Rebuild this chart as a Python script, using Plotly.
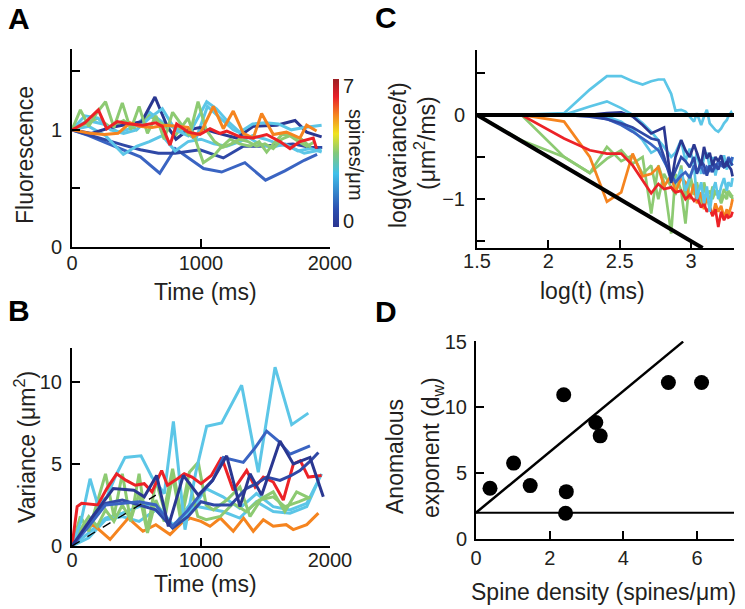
import plotly.graph_objects as go

W, H = 745, 609

# ---------------- colours ----------------
NAVY = '#2a3791'
NAVY2 = '#2f48a6'
BLUE = '#3a64c2'
LBLUE = '#5cc6e7'
GREEN = '#8dca72'
RED = '#ec2227'
ORANGE = '#f5841f'

# ---------------- Panel A: Fluorescence vs time ----------------
A_T_NAVY1 = [0, 150, 300, 450, 540, 643, 734, 806, 900, 992, 1100, 1277, 1405, 1587, 1729, 1819, 1935]
A_V_NAVY1 = [1.0, 0.97, 1.02, 1.05, 1.07, 1.28, 1.04, 0.92, 1.0, 1.02, 0.98, 0.93, 1.03, 1.04, 1.08, 0.98, 0.94]
A_T_NAVY2 = [0, 120, 250, 400, 530, 670, 800, 992, 1173, 1328, 1450, 1600, 1713, 1850, 1940]
A_V_NAVY2 = [1.0, 0.96, 0.92, 0.87, 0.83, 0.80, 0.80, 0.83, 0.76, 0.86, 0.86, 0.87, 0.88, 0.85, 0.85]
A_T_BLUE = [0, 130, 260, 400, 530, 680, 800, 1020, 1160, 1340, 1500, 1650, 1800, 1900]
A_V_BLUE = [1.0, 0.95, 0.89, 0.83, 0.77, 0.63, 0.84, 0.67, 0.64, 0.72, 0.57, 0.65, 0.74, 0.79]
A_T_LB1 = [0, 100, 200, 300, 400, 500, 600, 700, 800, 900, 1044, 1120, 1200, 1300, 1400, 1500, 1600, 1700, 1800, 1935]
A_V_LB1 = [1.0, 1.12, 1.10, 1.0, 0.97, 1.0, 1.10, 1.18, 1.0, 0.95, 1.24, 1.18, 1.08, 0.98, 1.05, 1.06, 1.05, 1.0, 1.02, 1.04]
A_T_LB2 = [0, 130, 260, 398, 500, 600, 700, 800, 900, 1000, 1100, 1200, 1300, 1400, 1500, 1600, 1700, 1800, 1935]
A_V_LB2 = [1.0, 1.03, 0.95, 0.79, 0.86, 0.90, 0.95, 0.82, 0.90, 0.92, 0.88, 0.86, 0.90, 0.95, 0.92, 0.88, 0.85, 0.80, 0.83]
A_T_LB3 = [0, 120, 240, 360, 480, 600, 720, 840, 960, 1050, 1150, 1250, 1350, 1450, 1550, 1650, 1750, 1850, 1935]
A_V_LB3 = [1.0, 1.08, 1.05, 0.98, 1.02, 1.15, 1.05, 1.0, 0.92, 1.20, 1.10, 1.0, 0.95, 0.88, 0.85, 0.88, 0.82, 0.84, 0.81]
A_T_GREEN1 = [0, 65, 130, 195, 260, 325, 390, 455, 520, 585, 650, 715, 780, 845, 910, 977, 1040, 1105, 1170,
              1235, 1300, 1365, 1430, 1495, 1560, 1625, 1690, 1755, 1820, 1885]
A_V_GREEN1 = [1.0, 1.17, 1.03, 1.15, 1.24, 1.02, 1.23, 1.0, 1.20, 0.97, 1.12, 0.92, 1.15, 1.05, 0.95, 1.24, 1.0,
              0.90, 0.85, 0.88, 0.92, 0.90, 0.86, 0.88, 0.84, 0.92, 0.95, 0.90, 0.86, 0.90]
A_T_GREEN2 = [0, 100, 200, 300, 400, 500, 600, 700, 800, 900, 1018, 1100, 1147, 1225, 1300, 1380, 1450, 1509,
              1560, 1628, 1700, 1780, 1850]
A_V_GREEN2 = [1.0, 1.05, 1.10, 1.02, 1.08, 1.0, 1.12, 1.05, 0.95, 1.10, 0.72, 0.78, 0.84, 0.92, 0.88, 0.86, 0.90,
              0.81, 0.88, 0.96, 0.95, 0.92, 0.85]
A_T_RED = [0, 100, 204, 269, 350, 450, 550, 650, 700, 760, 811, 900, 992, 1070, 1147, 1200, 1302, 1400, 1509,
           1612, 1690, 1767, 1870, 1896]
A_V_RED = [1.0, 1.06, 1.17, 1.01, 1.07, 1.05, 1.04, 1.06, 1.03, 0.87, 1.05, 0.98, 0.96, 1.01, 0.97, 0.99, 0.94,
           0.93, 0.96, 0.90, 0.84, 0.90, 0.93, 0.84]
A_T_ORANGE = [0, 140, 250, 357, 450, 520, 620, 720, 820, 900, 938, 1000, 1096, 1173, 1250, 1328, 1405, 1470, 1560,
              1663, 1767, 1819, 1896]
A_V_ORANGE = [1.0, 0.97, 0.96, 0.97, 1.06, 1.03, 1.02, 1.04, 1.03, 1.02, 0.94, 0.98, 1.20, 1.01, 1.16, 0.97, 0.93,
              1.14, 0.96, 0.98, 0.93, 1.04, 0.99]

# ---------------- Panel B: Variance vs time ----------------
B_T_LB1 = [0, 70, 140, 200, 270, 340, 411, 535, 620, 716, 786, 876, 960, 1044, 1160, 1315, 1444, 1574, 1703, 1832]
B_V_LB1 = [0, 1.5, 4.1, 2.5, 3.0, 4.3, 5.4, 5.5, 4.2, 3.2, 7.6, 1.0, 4.5, 7.3, 7.5, 9.8, 4.5, 10.9, 7.4, 8.1]
B_T_LB2 = [0, 130, 260, 390, 520, 650, 780, 910, 1040, 1170, 1300, 1430, 1560, 1690, 1820, 1935]
B_V_LB2 = [0, 0.8, 1.7, 2.0, 2.4, 2.6, 1.3, 2.0, 3.5, 3.0, 2.3, 3.2, 2.4, 2.2, 2.6, 4.4]
B_T_LB3 = [0, 130, 260, 390, 520, 650, 780, 910, 1040, 1170, 1300, 1430, 1560, 1690, 1820, 1900]
B_V_LB3 = [0, 0.5, 1.6, 1.8, 1.5, 2.2, 1.1, 2.5, 2.3, 2.1, 1.7, 2.7, 2.1, 2.0, 2.4, 3.8]
B_T_GREEN1 = [0, 65, 130, 195, 260, 325, 390, 455, 520, 585, 650, 715, 780, 845, 910, 979, 1040, 1096, 1200,
              1302, 1380, 1470, 1560, 1650, 1741, 1845]
B_V_GREEN1 = [0, 1.8, 0.9, 2.6, 4.4, 1.8, 4.4, 1.5, 4.4, 0.9, 4.0, 2.2, 4.7, 2.0, 4.5, 5.1, 2.5, 2.2, 2.8, 3.6,
              1.8, 2.9, 3.3, 2.1, 3.3, 2.9]
B_T_GREEN2 = [0, 65, 130, 195, 260, 325, 390, 455, 520, 585, 650, 715, 780, 845, 910, 975, 1040, 1150, 1250,
              1350, 1450, 1560, 1650, 1760, 1850]
B_V_GREEN2 = [0, 1.0, 1.8, 1.2, 2.2, 1.5, 2.5, 1.6, 3.2, 0.8, 2.8, 1.5, 4.3, 1.5, 3.9, 1.8, 1.6, 1.8, 2.6, 2.1,
              2.8, 3.0, 2.4, 2.7, 3.0]
B_T_RED = [0, 40, 75, 200, 270, 346, 420, 490, 560, 620, 695, 740, 800, 870, 930, 1000, 1080, 1160, 1250, 1354,
           1420, 1483, 1560, 1638, 1716, 1770, 1832, 1935]
B_V_RED = [0, 2.4, 2.6, 2.5, 3.5, 4.4, 4.0, 3.7, 3.8, 3.3, 4.6, 3.7, 4.0, 4.4, 4.2, 3.8, 4.3, 5.4, 3.4, 4.6, 3.6,
           4.2, 3.9, 2.8, 5.0, 5.2, 4.2, 4.3]
B_T_ORANGE = [0, 80, 165, 295, 437, 550, 650, 760, 850, 915, 1000, 1070, 1150, 1250, 1330, 1405, 1483, 1560,
              1660, 1715, 1820, 1910]
B_V_ORANGE = [0, 0.9, 1.3, 0.4, 1.7, 0.9, 1.3, 0.7, 1.4, 1.7, 1.5, 1.2, 1.7, 0.9, 1.7, 0.9, 1.6, 1.2, 1.3, 1.0,
              1.3, 2.0]
B_T_NAVY1 = [0, 160, 320, 480, 560, 656, 747, 863, 979, 1090, 1199, 1302, 1380, 1470, 1612, 1716, 1845, 1948]
B_V_NAVY1 = [0, 1.8, 3.5, 3.4, 3.0, 4.3, 1.2, 4.3, 3.1, 4.0, 5.5, 2.4, 4.4, 3.1, 6.4, 5.0, 5.4, 3.0]
B_T_BLUE = [0, 130, 260, 400, 520, 650, 780, 900, 1000, 1090, 1173, 1328, 1420, 1509, 1600, 1690, 1845]
B_V_BLUE = [0, 1.2, 2.5, 2.6, 2.7, 2.5, 1.2, 2.2, 3.2, 4.0, 5.4, 5.1, 6.0, 7.0, 6.4, 5.6, 6.1]
B_T_NAVY2 = [0, 130, 260, 390, 520, 650, 780, 900, 1000, 1100, 1230, 1350, 1430, 1509, 1612, 1700, 1767, 1850, 1910]
B_V_NAVY2 = [0, 1.3, 2.6, 2.8, 2.5, 2.2, 1.1, 1.8, 2.7, 2.5, 2.5, 3.5, 3.8, 4.2, 4.0, 4.3, 4.6, 5.2, 5.7]
B_FIT_T = [0, 650]
B_FIT_V = [0, 3.1]

# ---------------- Panel C: log(variance/t) vs log(t) ----------------
C_LOGT = [1.5, 1.81, 2.11, 2.29, 2.41, 2.51, 2.59, 2.66, 2.72, 2.77, 2.81, 2.86, 2.89, 2.93, 2.96, 2.99, 3.02,
          3.04, 3.07, 3.09, 3.11, 3.13, 3.15, 3.17, 3.19, 3.21, 3.23, 3.25, 3.26, 3.28, 3.29]
C_LB1 = [0, 0, 0.02, 0.30, 0.46, 0.46, 0.40, 0.36, 0.40, 0.42, 0.42, 0.25, 0.05, 0.06, 0.04, -0.02, -0.08, 0.02,
         -0.12, -0.02, 0.06, -0.10, -0.14, -0.18, -0.20, -0.16, -0.10, -0.06, -0.02, 0.03, 0.0]
C_LB2 = [0, 0, 0.0, 0.10, 0.16, 0.08, 0.0, -0.10, -0.20, -0.30, -0.38, -0.50, -0.45, -0.30, -0.55, -0.40, -0.60,
         -0.45, -0.70, -0.50, -0.45, -0.62, -0.50, -0.72, -0.55, -0.60, -0.48, -0.65, -0.55, -0.60, -0.50]
C_LB3 = [0, 0, 0, 0, -0.02, -0.08, -0.18, -0.30, -0.45, -0.40, -0.55, -0.72, -0.80, -0.65, -0.90, -0.75, -0.60,
         -1.0, -0.80, -1.05, -0.85, -1.15, -0.90, -0.80, -1.0, -0.85, -0.75, -0.90, -0.80, -0.85, -0.75]
C_NAVY1 = [0, 0, 0, 0, 0.02, 0.03, -0.02, -0.12, -0.22, -0.18, -0.15, -0.81, -0.50, -0.30, -0.42, -0.50, -0.35,
           -0.45, -0.60, -0.38, -0.52, -0.45, -0.60, -0.50, -0.55, -0.48, -0.62, -0.55, -0.60, -0.65, -0.73]
C_NAVY2 = [0, 0, 0, -0.02, -0.05, -0.10, -0.15, -0.22, -0.28, -0.30, -0.50, -0.78, -0.65, -0.50, -0.55, -0.62,
           -0.50, -0.70, -0.55, -0.60, -0.72, -0.60, -0.68, -0.58, -0.65, -0.55, -0.62, -0.60, -0.52, -0.58, -0.60]
C_BLUE = [0, 0, 0, 0, -0.05, -0.12, -0.20, -0.28, -0.35, -0.42, -0.55, -0.70, -0.80, -0.72, -0.68, -0.75, -0.60,
          -0.68, -0.60, -0.70, -0.62, -0.66, -0.58, -0.64, -0.55, -0.60, -0.62, -0.58, -0.50, -0.55, -0.50]
C_RED = [0, 0, -0.28, -0.42, -0.46, -0.46, -0.60, -0.77, -0.93, -0.82, -0.88, -0.86, -0.92, -0.90, -1.0, -0.95,
         -1.02, -0.98, -1.10, -1.05, -1.15, -1.10, -1.20, -1.12, -1.33, -1.15, -1.25, -1.18, -1.22, -1.20, -1.15]
C_ORANGE = [0, 0, -0.08, -0.50, -1.03, -0.92, -0.46, -0.73, -0.70, -0.62, -0.85, -0.72, -0.92, -0.75, -0.80,
            -1.0, -0.82, -1.05, -0.92, -1.12, -0.98, -1.10, -1.20, -1.05, -1.15, -1.08, -1.22, -1.12, -1.20, -1.08, -1.0]
C_GREEN1 = [0, -0.30, -0.50, -0.69, -0.52, -0.42, -0.58, -0.50, -1.17, -0.60, -0.80, -1.41, -0.70, -0.90, -1.29,
            -0.75, -0.95, -0.85, -1.10, -0.80, -0.95, -1.0, -0.85, -0.95, -0.90, -1.0, -0.88, -0.95, -0.92, -0.98, -0.95]
C_GREEN2 = [0, 0, -0.50, -0.69, -0.38, -0.55, -0.48, -0.70, -0.60, -1.0, -0.70, -0.85, -0.95, -0.60, -1.0, -0.70,
            -0.90, -0.80, -1.05, -0.85, -0.95, -0.90, -1.0, -0.90, -0.95, -1.05, -0.95, -1.0, -0.90, -0.95, -1.0]
C_REF_FLAT_X = [1.5, 3.3]
C_REF_FLAT_Y = [0, 0]
C_REF_SLOPE_X = [1.5, 3.08]
C_REF_SLOPE_Y = [0, -1.58]

# ---------------- Panel D: anomalous exponent vs spine density ----------------
D_DENSITY = [0.38, 1.02, 1.47, 2.38, 2.45, 2.43, 3.25, 3.37, 5.22, 6.12]
D_EXPONENT = [3.86, 5.77, 4.06, 10.97, 3.6, 1.96, 8.86, 7.84, 11.9, 11.9]
D_FIT_X = [0, 5.62]
D_FIT_Y = [2.0, 15.0]
D_NORMAL_X = [0, 7]
D_NORMAL_Y = [2.0, 2.0]

# colour bar
CBAR_MIN, CBAR_MAX = 0, 7
CSCALE = [[0.0, '#2b3590'], [0.12, '#2c4fb0'], [0.36, '#40c0ea'], [0.5, '#82c97a'], [0.63, '#efe31f'],
          [0.76, '#f58220'], [0.88, '#e8202a'], [1.0, '#9c2024']]

FONT = 'Liberation Sans, Arial, Helvetica, sans-serif'
TXT = '#231f20'

fig = go.Figure()


def line(xs, ys, color, xa, ya, width=3.0, dash=None):
    fig.add_trace(go.Scatter(x=xs, y=ys, mode='lines', xaxis=xa, yaxis=ya,
                             line=dict(color=color, width=width, dash=dash),
                             showlegend=False, hoverinfo='skip'))


# Panel A
for t, v, c in [(A_T_BLUE, A_V_BLUE, BLUE), (A_T_NAVY2, A_V_NAVY2, NAVY2), (A_T_LB2, A_V_LB2, LBLUE),
                (A_T_LB3, A_V_LB3, LBLUE), (A_T_GREEN2, A_V_GREEN2, GREEN), (A_T_NAVY1, A_V_NAVY1, NAVY),
                (A_T_LB1, A_V_LB1, LBLUE), (A_T_GREEN1, A_V_GREEN1, GREEN), (A_T_ORANGE, A_V_ORANGE, ORANGE),
                (A_T_RED, A_V_RED, RED)]:
    line(t, v, c, 'x', 'y')

# colour bar drawn as a gradient-filled rectangle in its own small axes
fig.add_trace(go.Scatter(x=[0, 1, 1, 0, 0], y=[CBAR_MIN, CBAR_MIN, CBAR_MAX, CBAR_MAX, CBAR_MIN],
                         mode='lines', fill='toself', line=dict(width=0, color='rgba(0,0,0,0)'),
                         fillgradient=dict(type='vertical', colorscale=CSCALE),
                         xaxis='x5', yaxis='y5', showlegend=False, hoverinfo='skip'))

# Panel B
for t, v, c in [(B_T_LB3, B_V_LB3, LBLUE), (B_T_LB2, B_V_LB2, LBLUE), (B_T_ORANGE, B_V_ORANGE, ORANGE),
                (B_T_GREEN2, B_V_GREEN2, GREEN), (B_T_GREEN1, B_V_GREEN1, GREEN), (B_T_LB1, B_V_LB1, LBLUE),
                (B_T_RED, B_V_RED, RED), (B_T_NAVY2, B_V_NAVY2, NAVY2), (B_T_BLUE, B_V_BLUE, BLUE),
                (B_T_NAVY1, B_V_NAVY1, NAVY)]:
    line(t, v, c, 'x2', 'y2')
line(B_FIT_T, B_FIT_V, 'black', 'x2', 'y2', width=1.3, dash='dash')

# Panel C
for v, c in [(C_GREEN1, GREEN), (C_GREEN2, GREEN), (C_ORANGE, ORANGE), (C_RED, RED), (C_LB3, LBLUE),
             (C_LB2, LBLUE), (C_LB1, LBLUE), (C_BLUE, BLUE), (C_NAVY2, NAVY2), (C_NAVY1, NAVY)]:
    line(C_LOGT, v, c, 'x3', 'y3', width=2.7)
line(C_REF_FLAT_X, C_REF_FLAT_Y, 'black', 'x3', 'y3', width=4)
line(C_REF_SLOPE_X, C_REF_SLOPE_Y, 'black', 'x3', 'y3', width=4)

# Panel D
line(D_NORMAL_X, D_NORMAL_Y, 'black', 'x4', 'y4', width=2)
line(D_FIT_X, D_FIT_Y, 'black', 'x4', 'y4', width=2.5)
fig.add_trace(go.Scatter(x=D_DENSITY, y=D_EXPONENT, mode='markers', xaxis='x4', yaxis='y4',
                         marker=dict(color='black', size=15), showlegend=False, hoverinfo='skip'))

common = dict(showline=True, linecolor='black', linewidth=2, ticks='inside', ticklen=8, tickwidth=2,
              tickcolor='black', showgrid=False, zeroline=False, mirror=False, automargin=False,
              tickfont=dict(family=FONT, size=20, color=TXT))
minor_common = dict(ticks='inside', ticklen=8, tickwidth=2, tickcolor='black', showgrid=False)


def pxx(x):
    return x / W


def pyy(y):
    return 1 - y / H


fig.update_layout(
    width=W, height=H, autosize=False, margin=dict(l=0, r=0, t=0, b=0, pad=0, autoexpand=False),
    paper_bgcolor='white', plot_bgcolor='white', showlegend=False,
    xaxis=dict(domain=[pxx(72), pxx(330)], range=[0, 2000], anchor='y', tickvals=[0, 1000, 2000],
               ticklabelstandoff=-3, **common),
    yaxis=dict(domain=[pyy(247), pyy(49)], range=[0, 1.69], anchor='x', tickvals=[0, 1],
               minor=dict(tickvals=[0.5, 1.5], **minor_common), ticklabelstandoff=4, **common),
    xaxis2=dict(domain=[pxx(72), pxx(330)], range=[0, 2000], anchor='y2', tickvals=[0, 1000, 2000],
                ticklabelstandoff=-5, **common),
    yaxis2=dict(domain=[pyy(546), pyy(348)], range=[0, 12.07], anchor='x2', tickvals=[0, 5, 10],
                ticklabelstandoff=4, **common),
    xaxis3=dict(domain=[pxx(477), pxx(734)], range=[1.5, 3.3], anchor='y3', tickvals=[1.5, 2, 2.5, 3],
                ticktext=['1.5', '2', '2.5', '3'], ticklabelstandoff=-6, **common),
    yaxis3=dict(domain=[pyy(248), pyy(50)], range=[-1.58, 0.77], anchor='x3',
                tickvals=[-1, 0], ticktext=['\u22121', '0'],
                minor=dict(tickvals=[-1.5, -0.5, 0.5], **minor_common), ticklabelstandoff=6, **common),
    xaxis4=dict(domain=[pxx(476), pxx(734)], range=[0, 7], anchor='y4', tickvals=[0, 2, 4, 6],
                ticklabelstandoff=0, **common),
    yaxis4=dict(domain=[pyy(539), pyy(341)], range=[0, 15.05], anchor='x4', tickvals=[0, 5, 10, 15],
                ticklabelstandoff=3, **common),
    xaxis5=dict(domain=[pxx(333), pxx(339)], range=[0, 1], anchor='y5', visible=False, fixedrange=True),
    yaxis5=dict(domain=[pyy(227), pyy(79)], range=[CBAR_MIN, CBAR_MAX], anchor='x5', visible=False,
                fixedrange=True),
)


def note(text, x, y, size=23, angle=0, bold=False, xanchor='center'):
    fig.add_annotation(text=('<b>%s</b>' % text) if bold else text, x=pxx(x), y=pyy(y), xref='paper',
                       yref='paper', showarrow=False, textangle=angle, xanchor=xanchor, yanchor='middle',
                       font=dict(family=FONT, size=size, color=TXT if not bold else 'black'))


# panel letters
note('A', 19, 19, size=30, bold=True)
note('B', 19, 310, size=30, bold=True)
note('C', 386, 18, size=30, bold=True)
note('D', 386, 311, size=30, bold=True)

# colour bar labels
note('7', 341, 86, size=20, xanchor='left')
note('0', 341, 221, size=20, xanchor='left')
note('spines/\u03bcm', 356, 155, size=20, angle=90)

# axis titles
note('Fluorescence', 25, 155, angle=-90)
note('Time (ms)', 205, 292)
note('Variance (\u03bcm<sup>2</sup>)', 25, 447, angle=-90)
note('Time (ms)', 205, 584)
note('log(variance/t)', 398, 155, angle=-90)
note('(\u03bcm<sup>2</sup>/ms)', 425, 143, angle=-90)
note('log(t) (ms)', 592, 291)
note('Anomalous', 395, 457, angle=-90)
note('exponent (d<sub>w</sub>)', 432, 448, angle=-90)
note('Spine density (spines/\u03bcm)', 603, 592)

# remove the default 8px page margin so the figure sits at the window's top-left corner
fig.write_html('out.html', config={'displayModeBar': False},
               post_script="document.body.style.margin='0';document.body.style.overflow='hidden';")
